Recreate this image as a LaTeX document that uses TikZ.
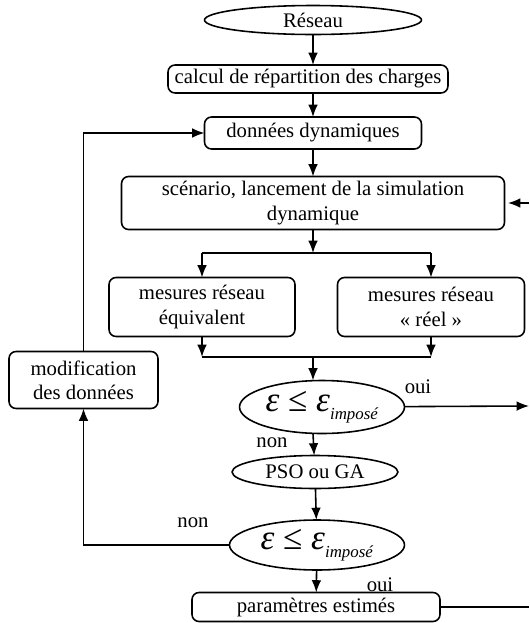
\documentclass[tikz,border=0pt]{standalone}
\usepackage{fontspec}
\setmainfont{Liberation Serif}
\usetikzlibrary{shapes.geometric, arrows.meta}

\newcommand{\epsimp}{{\fontsize{20}{22}\selectfont\textit{ε} ≤ \textit{ε}}\raisebox{-4.5pt}{\fontsize{9.6}{10}\selectfont\textit{imposé}}}

\begin{document}
\begin{tikzpicture}[x=0.02cm, y=-0.02cm]
\tikzset{ >={Latex[length=7pt,width=5.5pt]}, inner sep=0pt, outer sep=0pt,
  txt/.style={font=\fontsize{11.8}{13.8}\selectfont},
  box/.style={txt, draw, line width=0.9pt, rounded corners=4pt, align=center},
  oval/.style={txt, draw, line width=0.9pt, ellipse, align=center},
  link/.style={line width=0.9pt},
}

\useasboundingbox (0,0) rectangle (529,623);

%\draw [lightgray, dashed](0,0) grid[step=50] (529,623);

\node [oval, minimum width=4.34cm, minimum height=0.58cm] (R) at (313,20) {Réseau};
\node [box, minimum width=5.6cm, minimum height=0.56cm] (C) at (308,79) {calcul de répartition des charges};
\node [box, minimum width=4.34cm, minimum height=0.64cm] (D) at (313,133) {données dynamiques};
\node [box, minimum width=7.66cm, minimum height=1.06cm] (S) at (313,203) {scénario, lancement de la simulation\\dynamique};

\node [box, minimum width=3.72cm, minimum height=1.18cm] (ME) at (202,307) {mesures réseau\\équivalent};
\node [box, minimum width=3.74cm, minimum height=1.18cm] (MR) at (431,307) {mesures réseau\\« réel »};

\node [oval, minimum width=3.3cm, minimum height=1.06cm] (E1) at (322,407) {\epsimp};
\node [oval, minimum width=3.32cm, minimum height=0.66cm] (P) at (315,472) {PSO ou GA};
\node [oval, minimum width=3.5cm, minimum height=1.0cm] (E2) at (317,545) {\epsimp};
\node [box, minimum width=4.96cm, minimum height=0.58cm] (PE) at (316,607) {paramètres estimés};

\node [box, minimum width=2.98cm, minimum height=1.14cm] (M) at (83.5,380) {modification\\des données};

\node [txt] (oui1) at (418,387) {oui};
\node [txt] (non1) at (272,443) {non};
\node [txt] (non2) at (193,523) {non};
\node [txt] (oui2) at (380,585) {oui};

\coordinate (J1) at (313,253);
\coordinate (JL) at (202,253);
\coordinate (JR) at (431,253);
\coordinate (K1) at (313,357);
\coordinate (KL) at (202,357);
\coordinate (KR) at (431,357);
\coordinate (in) at (529,203);
\coordinate (out1) at (529,406);
\coordinate (out2) at (529,607);
\coordinate (back) at (83.5,545);
\coordinate (up) at (83.5,133);

\draw [->, link] (R) -- (R |- C.north);
\draw [->, link] (R |- C.south) -- (D);
\draw [->, link] (D) -- (S);
\draw [->, link] (S) -- (J1);
\draw [link] (JL) -- (JR);
\draw [->, link] (JL) -- (ME);
\draw [->, link] (JR) -- (MR);
\draw [->, link] (ME) -- (KL);
\draw [->, link] (MR) -- (KR);
\draw [link] (KL) -- (KR);
\draw [->, link] (K1) -- (K1 |- E1.north);
\draw [->, link] (in) -- ([xshift=2pt]S.east |- in);
\draw [->, link] (E1) -- (out1);
\draw [->, link] (K1 |- E1.south) -- (P);
\draw [->, link] (P) -- (E2);
\draw [->, link] (E2) -- (PE);
\draw [link] (PE) -- (out2);
\draw [->, link] (E2) -- (back) -- (M);
\draw [->, link] (M) -- (up) -- (D);

\end{tikzpicture}
\end{document}
